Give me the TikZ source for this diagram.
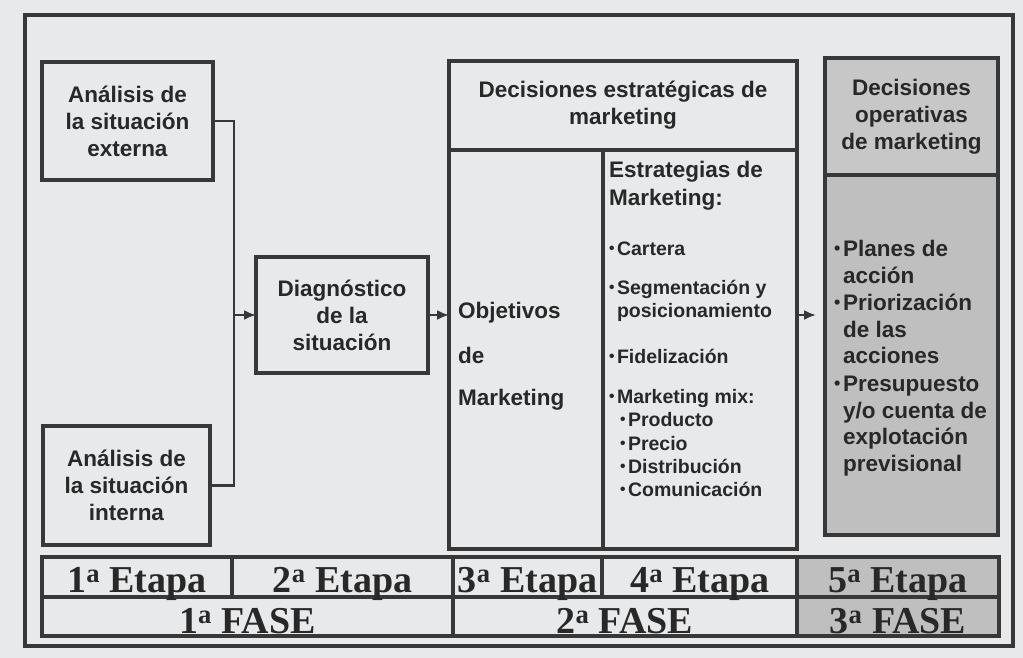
\documentclass[tikz,border=0pt]{standalone}
\usepackage{fontspec}
\setmainfont{Liberation Sans}
\newfontfamily\etapafont{Liberation Serif}
\usetikzlibrary{arrows.meta,positioning}

\definecolor{fondo}{HTML}{E8E9EA}
\definecolor{trazo}{HTML}{383838}
\definecolor{texto}{HTML}{282828}
\definecolor{gris}{HTML}{BFBFBF}
\definecolor{grisclaro}{HTML}{C7C7C7}

% small bullet with a fixed width, so that follow-on lines can be indented with \phantom
\newcommand\pto{\makebox[0.4em][l]{\raisebox{0.08em}{\scalebox{0.8}{•}}}}

\begin{document}
\begin{tikzpicture}[x=1pt,y=-1pt,
	caja/.style={draw=trazo,line width=3.4pt,inner sep=0pt,outer sep=0pt,text=texto,
		font=\bfseries\fontsize{22.5}{27}\selectfont,align=center},
	txt/.style={anchor=base west,inner sep=0pt,text=texto,font=\bfseries\fontsize{22.5}{27}\selectfont},
	item/.style={txt,font=\bfseries\fontsize{19.5}{23.5}\selectfont},
	etapa/.style={anchor=base,inner sep=0pt,text=texto,font=\etapafont\bfseries\fontsize{38}{40}\selectfont},
	linea/.style={draw=trazo,line width=2.2pt},
	flecha/.style={linea,-{Latex[length=12pt,width=10pt]}}]

	% page and outer frame
	\fill[fondo] (0,0) rectangle (1023,658);
	\useasboundingbox (0,0) rectangle (1023,658);
	\draw[trazo,line width=3.4pt] (25,15) rectangle (1013,646);

	% analysis and diagnosis
	\node[caja,minimum width=171pt,minimum height=118pt] (ext) at (127.5,121) {Análisis de\\la situación\\externa};
	\node[caja,minimum width=167pt,minimum height=119pt] (int) at (126.5,485.5) {Análisis de\\la situación\\interna};
	\node[caja,minimum width=172pt,minimum height=116pt] (diag) at (342,315) {Diagnóstico\\de la\\situación};

	% strategic decisions
	\node[caja,minimum width=348pt,minimum height=89pt] (esthead) at (623,105.5) {Decisiones estratégicas de\\marketing};
	\node[caja,minimum width=154pt,minimum height=399pt] (obj) at (526,349.5) {};
	\node[caja,minimum width=194pt,minimum height=399pt] (estr) at (700,349.5) {};

	\node[txt] (o1) at (458,318) {Objetivos};
	\node[txt] (o2) at (458,363) {de};
	\node[txt] (o3) at (458,405) {Marketing};

	\node[txt] (e1) at (609,178) {Estrategias de};
	\node[txt] (e2) at (609,205) {Marketing:};
	\node[item] (e3) at (609,255) {\pto Cartera};
	\node[item] (e4) at (609,294) {\pto Segmentación y};
	\node[item] (e5) at (609,317) {\phantom{\pto}posicionamiento};
	\node[item] (e6) at (609,363) {\pto Fidelización};
	\node[item] (e7) at (609,403) {\pto Marketing mix:};
	\node[item] (e8) at (620,426) {\pto Producto};
	\node[item] (e9) at (620,450) {\pto Precio};
	\node[item] (e10) at (620,473) {\pto Distribución};
	\node[item] (e11) at (620,496) {\pto Comunicación};

	% operative decisions
	\node[caja,fill=grisclaro,minimum width=173pt,minimum height=117pt] (ophead) at (911.5,116.5) {Decisiones\\operativas\\de marketing};
	\node[caja,fill=gris,minimum width=173pt,minimum height=360pt] (opbody) at (911.5,355) {};

	\node[txt] (p1) at (834,256) {\pto Planes de};
	\node[txt] (p2) at (834,283) {\phantom{\pto}acción};
	\node[txt] (p3) at (834,310) {\pto Priorización};
	\node[txt] (p4) at (834,337) {\phantom{\pto}de las};
	\node[txt] (p5) at (834,363) {\phantom{\pto}acciones};
	\node[txt] (p6) at (834,391) {\pto Presupuesto};
	\node[txt] (p7) at (834,418) {\phantom{\pto}y/o cuenta de};
	\node[txt] (p8) at (834,444) {\phantom{\pto}explotación};
	\node[txt] (p9) at (834,471) {\phantom{\pto}previsional};

	% connectors
	\coordinate (nudo) at (234,315);
	\draw[linea] (ext.east) -| (nudo);
	\draw[linea] (int.east) -| (nudo);
	\draw[flecha] (nudo) -- (diag.west);
	\draw[flecha] (diag.east) -- (diag.east -| obj.west);
	\draw[flecha,shorten >=9pt] (estr.east |- diag.east) -- (diag.east -| opbody.west);

	% stages and phases
	\fill[gris] (797,557) rectangle (999,636);
	\draw[trazo,line width=3.4pt] (42,557) rectangle (999,636);
	\draw[trazo,line width=3.4pt] (42,597) -- (999,597);
	\draw[trazo,line width=3.4pt] (232,557) -- (232,597);
	\draw[trazo,line width=3.4pt] (453,557) -- (453,636);
	\draw[trazo,line width=3.4pt] (602,557) -- (602,597);
	\draw[trazo,line width=3.4pt] (797,557) -- (797,636);

	\node[etapa] (t1) at (137,592) {1\textsuperscript{a} Etapa};
	\node[etapa] (t2) at (342.5,592) {2\textsuperscript{a} Etapa};
	\node[etapa] (t3) at (527.5,592) {3\textsuperscript{a} Etapa};
	\node[etapa] (t4) at (700,592) {4\textsuperscript{a} Etapa};
	\node[etapa] (t5) at (898,592) {5\textsuperscript{a} Etapa};
	\node[etapa] (f1) at (247.5,633) {1\textsuperscript{a} FASE};
	\node[etapa] (f2) at (625,633) {2\textsuperscript{a} FASE};
	\node[etapa] (f3) at (898,633) {3\textsuperscript{a} FASE};
\end{tikzpicture}
\end{document}
